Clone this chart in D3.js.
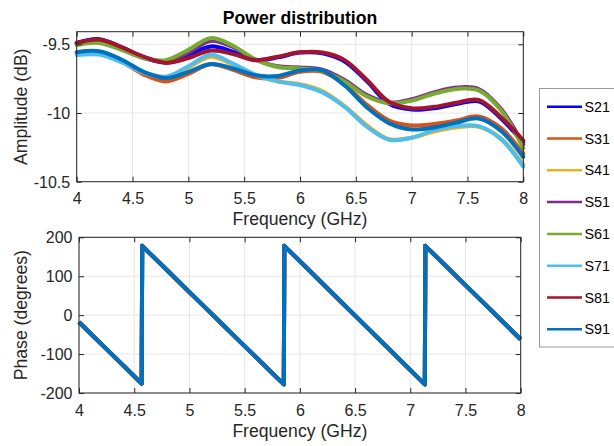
<!DOCTYPE html>
<html>
<head>
<meta charset="utf-8">
<script src="https://cdn.jsdelivr.net/npm/d3@7"></script>
<style>
  html, body { margin: 0; padding: 0; background: #fff; }
  svg { display: block; font-family: "Liberation Sans", Arial, Helvetica, sans-serif; }
</style>
</head>
<body>
<svg id="chart" width="614" height="446"></svg>
<script>
// Frequency sample points (GHz) for the amplitude traces
const freqs = [4.0, 4.2, 4.4, 4.6, 4.8, 5.0, 5.2, 5.4, 5.6, 5.8, 6.0, 6.2, 6.4, 6.6, 6.8, 7.0, 7.2, 7.4, 7.6, 7.8, 8.0];

const seriesNames = ["S21", "S31", "S41", "S51", "S61", "S71", "S81", "S91"];
const seriesColors = ["#0000FF", "#D95319", "#EDB120", "#7E2F8E", "#77AC30", "#4DBEEE", "#A2142F", "#0072BD"];

// Amplitude (dB) of each transmission path
const S21 = [-9.49, -9.462, -9.52, -9.595, -9.63, -9.58, -9.515, -9.555, -9.615, -9.595, -9.56, -9.565, -9.625, -9.77, -9.935, -9.975, -9.965, -9.935, -9.915, -10.04, -10.215];
const S31 = [-9.565, -9.56, -9.625, -9.72, -9.77, -9.715, -9.645, -9.685, -9.74, -9.745, -9.70, -9.70, -9.795, -9.94, -10.055, -10.09, -10.08, -10.055, -10.025, -10.11, -10.295];
const S41 = [-9.565, -9.565, -9.625, -9.705, -9.74, -9.67, -9.59, -9.65, -9.725, -9.77, -9.79, -9.84, -9.95, -10.09, -10.19, -10.18, -10.135, -10.105, -10.10, -10.185, -10.375];
const S51 = [-9.50, -9.48, -9.535, -9.60, -9.625, -9.56, -9.475, -9.52, -9.61, -9.66, -9.668, -9.685, -9.76, -9.87, -9.925, -9.90, -9.85, -9.815, -9.825, -9.97, -10.23];
const S61 = [-9.505, -9.49, -9.54, -9.60, -9.615, -9.54, -9.455, -9.51, -9.61, -9.665, -9.675, -9.695, -9.77, -9.88, -9.93, -9.91, -9.86, -9.825, -9.835, -9.98, -10.255];
const S71 = [-9.578, -9.575, -9.63, -9.705, -9.735, -9.66, -9.575, -9.64, -9.72, -9.77, -9.796, -9.85, -9.955, -10.10, -10.195, -10.18, -10.125, -10.095, -10.095, -10.19, -10.39];
const S81 = [-9.49, -9.465, -9.52, -9.59, -9.635, -9.60, -9.545, -9.57, -9.615, -9.59, -9.558, -9.56, -9.615, -9.76, -9.92, -9.965, -9.955, -9.925, -9.905, -10.03, -10.20];
const S91 = [-9.558, -9.55, -9.61, -9.70, -9.745, -9.70, -9.643, -9.675, -9.725, -9.73, -9.69, -9.69, -9.80, -9.96, -10.075, -10.12, -10.105, -10.07, -10.04, -10.13, -10.32];
const amplitudes = [S21, S31, S41, S51, S61, S71, S81, S91];

// Phase (degrees): wrapped linear phase, shared by all paths
const phaseFreqs = [4.0, 4.568, 4.572, 5.855, 5.859, 7.132, 7.136, 8.0];
const phaseValues = [-18, -176, 178, -178, 178, -178, 178, -62];

// Tick values and labels
const freqTicks = [4, 4.5, 5, 5.5, 6, 6.5, 7, 7.5, 8];
const freqTickLabels = ["4", "4.5", "5", "5.5", "6", "6.5", "7", "7.5", "8"];
const ampTicks = [-10.5, -10, -9.5];
const ampTickLabels = ["-10.5", "-10", "-9.5"];
const phaseTicks = [-200, -100, 0, 100, 200];
const phaseTickLabels = ["-200", "-100", "0", "100", "200"];

const svg = d3.select("#chart");
const axisColor = "#262626";
const gridColor = "#e6e6e6";
const tickFont = 16;
const labelFont = 17.6;

function drawPanel(box, yDomain, yTicks, yTickLabels, yLabel) {
  const x = d3.scaleLinear().domain([4, 8]).range([box.left, box.right]);
  const y = d3.scaleLinear().domain(yDomain).range([box.bottom, box.top]);
  const g = svg.append("g");

  // grid
  g.append("g").selectAll("line").data(freqTicks).join("line")
    .attr("x1", d => x(d)).attr("x2", d => x(d))
    .attr("y1", box.top).attr("y2", box.bottom)
    .attr("stroke", gridColor).attr("stroke-width", 1);
  g.append("g").selectAll("line").data(yTicks).join("line")
    .attr("x1", box.left).attr("x2", box.right)
    .attr("y1", d => y(d)).attr("y2", d => y(d))
    .attr("stroke", gridColor).attr("stroke-width", 1);

  return { g, x, y, box, yTicks, yTickLabels, yLabel };
}

function finishPanel(p) {
  const { g, x, y, box, yTicks, yTickLabels, yLabel } = p;
  const tl = 5;
  const axBottom = g.append("g").attr("transform", `translate(0,${box.bottom})`)
    .call(d3.axisBottom(x).tickValues(freqTicks).tickSize(-tl).tickFormat((d, i) => freqTickLabels[i]));
  const axTop = g.append("g").attr("transform", `translate(0,${box.top})`)
    .call(d3.axisTop(x).tickValues(freqTicks).tickSize(-tl).tickFormat(""));
  const axLeft = g.append("g").attr("transform", `translate(${box.left},0)`)
    .call(d3.axisLeft(y).tickValues(yTicks).tickSize(-tl).tickFormat((d, i) => yTickLabels[i]));
  const axRight = g.append("g").attr("transform", `translate(${box.right},0)`)
    .call(d3.axisRight(y).tickValues(yTicks).tickSize(-tl).tickFormat(""));

  [axBottom, axTop, axLeft, axRight].forEach(a => {
    a.select(".domain").remove();
    a.selectAll("line").attr("stroke", axisColor);
    a.selectAll("text").attr("fill", axisColor).attr("font-size", tickFont)
      .attr("font-family", "Liberation Sans, Arial, sans-serif");
  });
  axBottom.selectAll("text").attr("y", 22.5).attr("dy", null);
  axLeft.selectAll("text").attr("x", -6.5).attr("dy", "0.34em");

  // box
  g.append("rect")
    .attr("x", box.left).attr("y", box.top)
    .attr("width", box.right - box.left).attr("height", box.bottom - box.top)
    .attr("fill", "none").attr("stroke", axisColor).attr("stroke-width", 1);

  g.append("text")
    .attr("x", (box.left + box.right) / 2).attr("y", box.bottom + 43.5)
    .attr("text-anchor", "middle").attr("font-size", labelFont).attr("fill", axisColor)
    .text("Frequency (GHz)");
  g.append("text")
    .attr("transform", `translate(27,${(box.top + box.bottom) / 2}) rotate(-90)`)
    .attr("text-anchor", "middle").attr("font-size", labelFont).attr("fill", axisColor)
    .text(yLabel);
}

// Amplitude panel
const ampPanel = drawPanel({ left: 76.7, right: 523.3, top: 31.7, bottom: 181.7 },
  [-10.5, -9.408], ampTicks, ampTickLabels, "Amplitude (dB)");
const ampLine = d3.line()
  .x((d, i) => ampPanel.x(freqs[i]))
  .y(d => ampPanel.y(d))
  .curve(d3.curveCatmullRom.alpha(0.5));
ampPanel.g.append("g").selectAll("path").data(amplitudes).join("path")
  .attr("d", d => ampLine(d))
  .attr("fill", "none")
  .attr("stroke", (d, i) => seriesColors[i])
  .attr("stroke-width", 4)
  .attr("stroke-linejoin", "round").attr("stroke-linecap", "round");
finishPanel(ampPanel);

// Phase panel
const phasePanel = drawPanel({ left: 79, right: 520.7, top: 237.3, bottom: 393 },
  [-200, 200], phaseTicks, phaseTickLabels, "Phase (degrees)");
const phaseLine = d3.line()
  .x((d, i) => phasePanel.x(phaseFreqs[i]))
  .y(d => phasePanel.y(d));
phasePanel.g.append("g").selectAll("path").data(seriesNames).join("path")
  .attr("d", () => phaseLine(phaseValues))
  .attr("fill", "none")
  .attr("stroke", (d, i) => seriesColors[i])
  .attr("stroke-width", 4)
  .attr("stroke-linejoin", "round");
finishPanel(phasePanel);

// Title
svg.append("text")
  .attr("x", 300).attr("y", 23.5)
  .attr("text-anchor", "middle").attr("font-size", 17.6).attr("font-weight", "bold")
  .attr("fill", "#000")
  .text("Power distribution");

// Legend
const legend = svg.append("g");
legend.append("rect")
  .attr("x", 539.5).attr("y", 88.5).attr("width", 100).attr("height", 258.5)
  .attr("fill", "#fff").attr("stroke", "#999").attr("stroke-width", 1);
const rowY = d3.scaleLinear().domain([0, seriesNames.length - 1]).range([106.7, 329.3]);
const entries = legend.selectAll("g.entry").data(seriesNames).join("g")
  .attr("class", "entry")
  .attr("transform", (d, i) => `translate(0,${rowY(i)})`);
entries.append("line")
  .attr("x1", 547).attr("x2", 582).attr("y1", 0).attr("y2", 0)
  .attr("stroke", (d, i) => seriesColors[i]).attr("stroke-width", 2.5);
entries.append("text")
  .attr("x", 584.5).attr("dy", "0.36em")
  .attr("font-size", 14.4).attr("fill", "#000")
  .text(d => d);
</script>
</body>
</html>
